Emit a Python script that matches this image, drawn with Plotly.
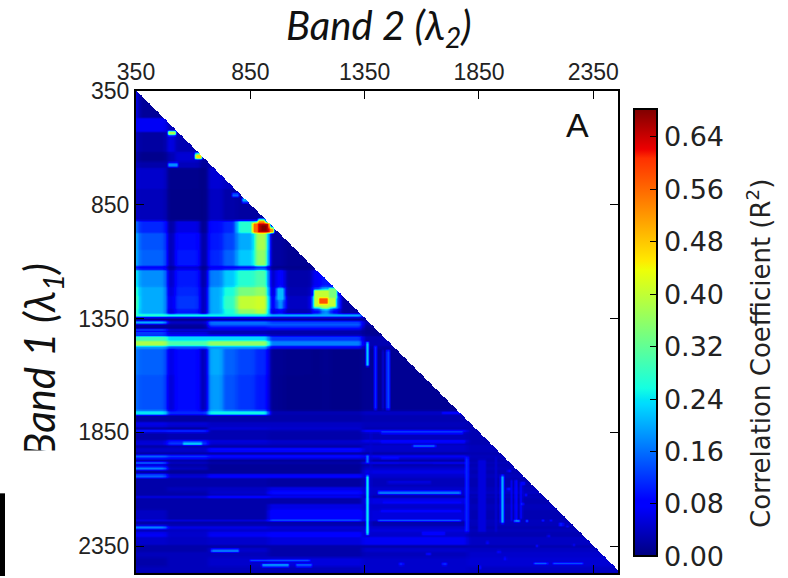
import numpy as np
import plotly.graph_objects as go

# ---- wavelength axes (nm) ----
tick_values = [350, 850, 1350, 1850, 2350]
x_limits = [350, 2458]
y_limits = [2468, 350]
step = 5

# ---- upper block: columns of Band 2, rows of Band 1, R2 ----
top_col_edges = [350, 360, 485, 520, 630, 665, 730, 790, 870, 930, 965, 1000, 1120, 1160, 1200, 1240, 1340]
top_rows = [
    (350, 470,  [.07, .015, .03, .02, .015, .015, .015, .015, .015, .015, .015, .015, .015, .015, .015, .015]),
    (470, 530,  [.07, .07, .035, .03, .015, .015, .015, .015, .015, .015, .015, .015, .015, .015, .015, .015]),
    (530, 620,  [.04, .02, .06, .03, .015, .015, .015, .015, .015, .015, .015, .015, .015, .015, .015, .015]),
    (620, 660,  [.03, .008, .03, .05, .02, .02, .015, .015, .015, .015, .015, .015, .015, .015, .015, .015]),
    (660, 690,  [.04, .025, .03, .035, .015, .03, .015, .015, .015, .015, .015, .015, .015, .015, .015, .015]),
    (690, 780,  [.05, .045, .008, .008, .004, .05, .04, .03, .025, .015, .015, .015, .015, .015, .015, .015]),
    (780, 920,  [.04, .035, .006, .006, .004, .04, .025, .02, .02, .02, .015, .015, .015, .015, .015, .015]),
    (920, 975,  [.17, .11, .02, .06, .008, .09, .11, .27, .32, .02, .015, .015, .015, .015, .015, .015]),
    (975, 1050, [.22, .14, .03, .09, .02, .10, .13, .20, .38, .02, .02, .012, .012, .012, .012, .012]),
    (1050, 1120,[.22, .15, .03, .10, .02, .11, .15, .22, .36, .02, .02, .012, .02, .02, .012, .012]),
    (1120, 1135,[.11, .08, .015, .05, .008, .07, .08, .09, .12, .01, .01, .008, .012, .012, .012, .012]),
    (1135, 1210,[.26, .18, .04, .10, .02, .17, .22, .27, .30, .04, .09, .025, .07, .10, .08, .02]),
    (1210, 1250,[.30, .20, .05, .11, .03, .20, .26, .34, .36, .05, .14, .03, .12, .20, .14, .02]),
    (1250, 1310,[.33, .20, .06, .12, .03, .20, .28, .40, .41, .07, .19, .04, .24, .38, .20, .02]),
    (1310, 1330,[.31, .20, .05, .10, .03, .20, .26, .36, .39, .05, .08, .03, .09, .18, .08, .02]),
    (1485, 1600,[.17, .15, .06, .09, .03, .20, .15, .13, .11, .012, .012, .008, .006, .01, .006, .006]),
    (1600, 1755,[.16, .14, .05, .09, .03, .19, .14, .12, .10, .012, .01, .006, .006, .008, .006, .006]),
]

# ---- lower block: zones of Band 2 and stripes of Band 1 ----
zone_edges = [350, 485, 665, 930, 1340, 1800, 2470]
stripes = [
    (1330, 1342, [.27, .25, .25, .20, .03, .02]),
    (1342, 1360, [.008, .008, .015, .015, .02, .02]),
    (1360, 1372, [.20, .04, .16, .13, .03, .02]),
    (1372, 1385, [.02, .02, .15, .15, .02, .02]),
    (1385, 1392, [.012, .012, .07, .09, .012, .02]),
    (1392, 1402, [.15, .06, .06, .05, .012, .02]),
    (1402, 1410, [.012, .012, .012, .012, .012, .02]),
    (1410, 1418, [.16, .07, .04, .03, .012, .02]),
    (1418, 1425, [.012, .008, .008, .008, .012, .02]),
    (1425, 1450, [.29, .23, .23, .12, .03, .02]),
    (1450, 1470, [.38, .30, .36, .17, .03, .02]),
    (1470, 1485, [.19, .14, .19, .07, .02, .02]),
    (1755, 1772, [.24, .11, .25, .03, .04, .02]),
    (1772, 1805, [.02, .02, .025, .025, .03, .03]),
    (1805, 1825, [.06, .05, .04, .04, .035, .03]),
    (1825, 1838, [.025, .02, .05, .045, .03, .03]),
    (1838, 1850, [.12, .13, .03, .03, .09, .03]),
    (1850, 1885, [.025, .03, .03, .025, .035, .03]),
    (1885, 1895, [.045, .09, .055, .045, .07, .03]),
    (1895, 1905, [.055, .13, .045, .04, .035, .03]),
    (1905, 1920, [.025, .03, .025, .025, .045, .035]),
    (1920, 1935, [.045, .045, .09, .09, .045, .035]),
    (1935, 1950, [.025, .025, .025, .025, .025, .03]),
    (1950, 1965, [.15, .12, .09, .09, .07, .035]),
    (1965, 1978, [.03, .025, .015, .015, .025, .03]),
    (1978, 1988, [.17, .04, .025, .025, .07, .035]),
    (1988, 2000, [.025, .02, .015, .015, .025, .03]),
    (2000, 2012, [.17, .035, .015, .015, .045, .035]),
    (2012, 2035, [.025, .015, .015, .015, .06, .03]),
    (2035, 2050, [.15, .05, .08, .08, .045, .035]),
    (2050, 2090, [.025, .025, .025, .02, .035, .03]),
    (2090, 2110, [.025, .035, .04, .06, .045, .035]),
    (2110, 2118, [.025, .025, .045, .10, .045, .04]),
    (2118, 2128, [.025, .025, .035, .055, .04, .03]),
    (2128, 2140, [.06, .06, .10, .07, .025, .035]),
    (2140, 2165, [.025, .025, .025, .025, .06, .03]),
    (2165, 2190, [.025, .025, .025, .06, .045, .035]),
    (2190, 2231, [.04, .025, .025, .085, .055, .03]),
    (2231, 2240, [.08, .08, .08, .21, .06, .04]),
    (2240, 2258, [.025, .025, .025, .025, .025, .035]),
    (2258, 2272, [.17, .06, .06, .05, .045, .03]),
    (2272, 2290, [.035, .04, .045, .045, .055, .035]),
    (2290, 2310, [.07, .045, .07, .08, .045, .03]),
    (2310, 2345, [.045, .04, .045, .055, .07, .04]),
    (2345, 2360, [.025, .025, .025, .025, .025, .03]),
    (2360, 2375, [.025, .025, .045, .025, .045, .04]),
    (2375, 2400, [.035, .035, .035, .025, .035, .045]),
    (2400, 2440, [.025, .035, .045, .055, .045, .05]),
    (2440, 2470, [.035, .035, .035, .035, .045, .04]),
]

# ---- local features: (band2 from, band2 to, band1 from, band1 to, R2) ----
hot_spots = [
    (856, 885, 930, 971, .56), (885, 935, 930, 971, .64), (895, 925, 938, 965, .68),
    (885, 915, 915, 930, .52), (935, 955, 948, 971, .52),
    (1130, 1225, 1225, 1300, .40), (1150, 1190, 1258, 1285, .58), (1195, 1230, 1215, 1260, .34),
    (965, 1000, 1215, 1270, .21), (490, 525, 525, 545, .38), (610, 640, 625, 650, .46),
    (490, 535, 665, 685, .18), (815, 845, 820, 840, .20), (770, 800, 800, 815, .15),
    (555, 640, 1895, 1905, .26), (680, 800, 2362, 2372, .20), (850, 1110, 2406, 2414, .22),
    (900, 1020, 2428, 2436, .22), (1050, 1120, 2428, 2436, .17), (2087, 2150, 2422, 2430, .24),
    (2175, 2305, 2422, 2430, .22),
]
vertical_lines = [
    (1355, 1368, 1452, 1558, .22), (1355, 1368, 1950, 1985, .16), (1355, 1368, 2040, 2300, .24),
    (1390, 1402, 1470, 1750, .11), (1445, 1460, 1490, 1750, .13), (1425, 1432, 1490, 1750, .05),
    (1790, 1805, 1960, 2290, .11), (1845, 1880, 1970, 2290, .055), (1945, 1956, 2040, 2250, .20),
    (1988, 1994, 2060, 2240, .10), (2008, 2014, 2060, 2240, .13), (2030, 2036, 2070, 2230, .08),
    (1375, 1380, 1850, 2300, .05), (1920, 1926, 1960, 2290, .05),
]
horizontal_lines = [
    (1408, 1767, 2108, 2116, .20), (1408, 1767, 2232, 2240, .24), (1430, 1767, 2152, 2158, .10),
    (1420, 1767, 2190, 2196, .09), (1500, 1650, 1983, 1990, .06), (1450, 1640, 2065, 2072, .06),
    (1600, 1700, 2290, 2298, .09), (1560, 1660, 1905, 1912, .17), (1420, 1500, 1957, 1963, .13),
    (1690, 1800, 1758, 1766, .09), (1420, 1780, 1845, 1852, .13), (1420, 1790, 1888, 1895, .12),
    (1690, 1790, 1605, 1650, .05),
]
speckles = [
    (2125, 2135, 2232, 2240, .20), (2160, 2170, 2232, 2240, .14), (2200, 2220, 2250, 2256, .12),
    (2055, 2065, 2235, 2245, .18), (2035, 2045, 2160, 2170, .13), (1975, 1985, 2095, 2105, .14),
    (2005, 2030, 2235, 2242, .20), (2050, 2060, 2120, 2130, .12), (2230, 2245, 2258, 2265, .10),
    (2100, 2110, 2345, 2352, .10), (1960, 1970, 2400, 2408, .10), (1500, 1520, 2425, 2433, .12),
    (1690, 1710, 2425, 2433, .13), (1850, 1860, 2440, 2450, .12), (1620, 1640, 2380, 2390, .09),
    (1975, 1990, 2015, 2025, .09), (2040, 2050, 2070, 2080, .10), (2150, 2160, 2300, 2308, .08),
    (2260, 2270, 2340, 2350, .08), (1880, 1895, 2330, 2340, .08), (1930, 1945, 2370, 2380, .08),
]

# ---- figure constants ----
colorbar_ticks = [0.00, 0.08, 0.16, 0.24, 0.32, 0.40, 0.48, 0.56, 0.64]
z_max = 0.682
jet = [
    [0.00, "rgb(0,0,127)"], [0.11, "rgb(0,0,255)"], [0.125, "rgb(0,0,255)"],
    [0.34, "rgb(0,219,255)"], [0.35, "rgb(0,228,247)"], [0.375, "rgb(20,255,226)"],
    [0.64, "rgb(238,255,7)"], [0.66, "rgb(255,234,0)"], [0.89, "rgb(255,48,0)"],
    [0.91, "rgb(237,0,0)"], [1.00, "rgb(127,0,0)"],
]

band2 = np.arange(x_limits[0], x_limits[1] + step, step, dtype=float)
band1 = np.arange(y_limits[1], y_limits[0] + step, step, dtype=float)
X, Y = np.meshgrid(band2, band1)
Z = np.full(X.shape, 0.012)


def paint(x0, x1, y0, y1, v):
    Z[(X >= x0) & (X < x1) & (Y >= y0) & (Y < y1)] = v


def soften(a, axis, passes):
    # the source image is a resampled scan: edges between read values are soft
    for _ in range(passes):
        p = np.take(a, [0], axis=axis), np.take(a, [-1], axis=axis)
        prev = np.concatenate([p[0], np.delete(a, -1, axis=axis)], axis=axis)
        nxt = np.concatenate([np.delete(a, 0, axis=axis), p[1]], axis=axis)
        a = (prev + 2 * a + nxt) / 4
    return a


for y0, y1, vals in top_rows:
    for i, v in enumerate(vals):
        paint(top_col_edges[i], top_col_edges[i + 1], y0, y1, v)
for y0, y1, vals in stripes:
    for i, v in enumerate(vals):
        paint(zone_edges[i], zone_edges[i + 1], y0, y1, v)
Z = soften(Z, 1, 6)
for group in (vertical_lines, horizontal_lines, hot_spots, speckles):
    for item in group:
        paint(*item)
Z = soften(Z, 1, 1)
Z = soften(Z, 0, 1)
Z[X > Y] = np.nan
Z = np.round(Z, 3)

fig = go.Figure(go.Heatmap(
    x=band2, y=band1, z=Z, zmin=0, zmax=z_max, colorscale=jet, zsmooth="best",
    hoverongaps=False,
    colorbar=dict(
        x=(634 - 136) / 482, xanchor="left", xpad=0, y=1 - (109.5 - 91) / 484, yanchor="top", ypad=0,
        thicknessmode="pixels", thickness=23, lenmode="pixels", len=447,
        outlinecolor="black", outlinewidth=2, ticks="inside", ticklen=8, tickcolor="black", tickwidth=1,
        tickvals=colorbar_ticks, ticktext=[f"{v:.2f}" for v in colorbar_ticks],
        tickfont=dict(family="DejaVu Sans", size=27, color="#222"),
    ),
))

axis_style = dict(
    tickvals=tick_values, ticks="inside", ticklen=8, tickcolor="black", tickwidth=1, showline=True,
    linecolor="black", linewidth=2, mirror="ticks", showgrid=False, zeroline=False,
    tickfont=dict(family="Liberation Sans", size=23, color="#222"),
)
fig.update_xaxes(range=x_limits, side="top", **axis_style)
fig.update_yaxes(range=y_limits, **axis_style)


def px_x(px):
    return (px - 136) / 482


def px_y(py):
    return 1 - (py - 91) / 484


title_font = dict(family="Lato", size=40, color="#111")
side_title_font = dict(family="Lato", size=42, color="#111")
fig.add_annotation(text="<i>Band 2 (λ<sub>2</sub>)</i>", xref="paper", yref="paper", x=px_x(378), y=px_y(27),
                   xanchor="center", yanchor="middle", showarrow=False, font=title_font)
fig.add_annotation(text="<i>Band 1 (λ<sub>1</sub>)</i>", xref="paper", yref="paper", x=px_x(42), y=px_y(362),
                   xanchor="center", yanchor="middle", showarrow=False, font=side_title_font, textangle=-90)
# the reference's crop removes the stem of the rotated "B"
fig.add_annotation(text="&nbsp;", xref="paper", yref="paper", x=px_x(40), y=px_y(456), xanchor="center",
                   yanchor="middle", showarrow=False, bgcolor="white", width=46, height=6, borderpad=0,
                   font=dict(size=4))
fig.add_annotation(text="A", xref="paper", yref="paper", x=px_x(577), y=px_y(125), xanchor="center",
                   yanchor="middle", showarrow=False, font=dict(family="Liberation Sans", size=34, color="#111"))
fig.add_annotation(text="Correlation Coefficient (R<sup>2</sup>)", xref="paper", yref="paper",
                   x=px_x(759), y=px_y(355), xanchor="center", yanchor="middle", showarrow=False, textangle=-90,
                   font=dict(family="DejaVu Sans", size=26, color="#222"))
fig.add_shape(type="rect", xref="paper", yref="paper", x0=px_x(0), x1=px_x(5),
              y0=px_y(578), y1=px_y(495), fillcolor="black", line_width=0)

fig.update_layout(
    width=788, height=578, margin=dict(l=136, r=170, t=91, b=3),
    paper_bgcolor="white", plot_bgcolor="white",
)
fig.write_html("out.html", config=dict(displayModeBar=False), post_script="document.body.style.margin='0';")
